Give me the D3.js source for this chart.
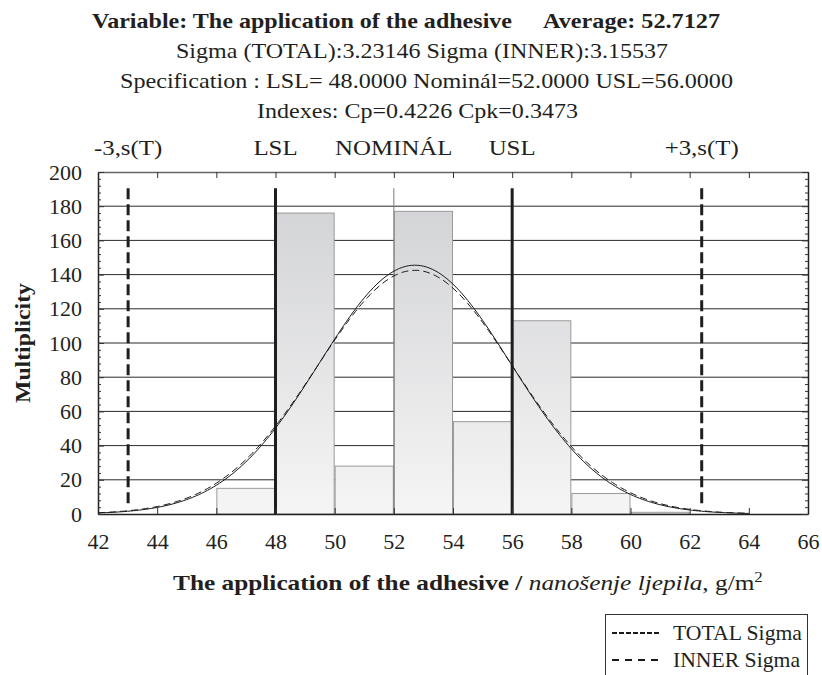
<!DOCTYPE html>
<html>
<head>
<meta charset="utf-8">
<script src="https://cdn.jsdelivr.net/npm/d3@7"></script>
<style>
  body { margin: 0; background: #fff; }
  svg, text { font-family: "Liberation Serif", "Times New Roman", Times, serif; }
  text { fill: #231f20; }
</style>
</head>
<body>
<svg id="chart" width="822" height="675"></svg>
<script>
// Histogram of adhesive application (g/m²) with fitted normal curves and spec limits
const binStarts = [46, 48, 50, 52, 54, 56, 58, 60];
const binCounts = [15, 176, 28, 177, 54, 113, 12, 1];
const binWidth = 2;

const average = 52.7127;
const sigmaTotal = 3.23146;
const sigmaInner = 3.15537;
const lsl = 48, nominal = 52, usl = 56;

// fitted curves: name, sigma and peak height of each drawn curve
const curveNames = ["TOTAL Sigma", "INNER Sigma"];
const curveSigmas = [3.23146, 3.30];
const curvePeaks = [145.5, 142.5];

const xTicks = [42, 44, 46, 48, 50, 52, 54, 56, 58, 60, 62, 64, 66];
const yTicks = [0, 20, 40, 60, 80, 100, 120, 140, 160, 180, 200];

const titleMain = "Variable: The application of the adhesive";
const titleAvg = "Average: 52.7127";
const titleLines = [
  "Sigma (TOTAL):3.23146 Sigma (INNER):3.15537",
  "Specification :  LSL= 48.0000 Nominál=52.0000 USL=56.0000",
  "Indexes: Cp=0.4226 Cpk=0.3473"
];

const specLabels = ["-3,s(T)", "LSL", "NOMINÁL", "USL", "+3,s(T)"];
const specValues = [average - 3 * sigmaTotal, lsl, nominal, usl, average + 3 * sigmaTotal];
const specKinds = ["sigma", "limit", "nominal", "limit", "sigma"];

const svg = d3.select("#chart");
const L = 98, R = 808, T = 172, B = 514;
const x = d3.scaleLinear().domain([42, 66]).range([L, R]);
const y = d3.scaleLinear().domain([0, 200]).range([B, T]);

// the typeset labels run a little wider than the plain font
const WIDEN = 1.13;
function widen(sel, k = WIDEN) {
  sel.each(function () {
    const w = this.getComputedTextLength();
    d3.select(this).attr("textLength", w * k).attr("lengthAdjust", "spacingAndGlyphs");
  });
  return sel;
}

// gradient fill for bars (darker toward top of plot)
const defs = svg.append("defs");
const grad = defs.append("linearGradient").attr("id", "barFill")
  .attr("gradientUnits", "userSpaceOnUse")
  .attr("x1", 0).attr("x2", 0).attr("y1", T).attr("y2", B);
grad.append("stop").attr("offset", "0%").attr("stop-color", "#cfd0d3");
grad.append("stop").attr("offset", "100%").attr("stop-color", "#f5f5f5");

// titles
svg.append("text").attr("x", 92).attr("y", 28)
  .style("font-weight", "bold").style("font-size", "22px")
  .attr("textLength", 420).attr("lengthAdjust", "spacingAndGlyphs")
  .text(titleMain);
svg.append("text").attr("x", 543).attr("y", 28)
  .style("font-weight", "bold").style("font-size", "22px")
  .attr("textLength", 177).attr("lengthAdjust", "spacingAndGlyphs")
  .text(titleAvg);
const subSpans = [[176, 668], [120, 733], [257, 578]];
svg.selectAll("text.sub").data(titleLines).join("text")
  .attr("class", "sub")
  .attr("x", (d, i) => subSpans[i][0]).attr("y", (d, i) => 58 + i * 30)
  .attr("textLength", (d, i) => subSpans[i][1] - subSpans[i][0])
  .attr("lengthAdjust", "spacingAndGlyphs")
  .style("font-size", "22px")
  .text(d => d);

// horizontal grid
svg.append("g").selectAll("line").data(yTicks.filter(v => v > 0 && v < 200)).join("line")
  .attr("x1", L).attr("x2", R).attr("y1", d => y(d)).attr("y2", d => y(d))
  .attr("stroke", "#2a2a2a").attr("stroke-width", 1);

// bars
svg.append("g").selectAll("rect").data(binStarts).join("rect")
  .attr("x", d => x(d) + 0.5)
  .attr("width", d => x(d + binWidth) - x(d) - 1)
  .attr("y", (d, i) => y(binCounts[i]))
  .attr("height", (d, i) => y(0) - y(binCounts[i]))
  .attr("fill", "url(#barFill)")
  .attr("stroke", "#9a9a9a").attr("stroke-width", 1);

// specification / sigma lines
const lineTop = 190.5, sigmaBottom = 5;
const specG = svg.append("g");
specValues.forEach((v, i) => {
  const kind = specKinds[i];
  const ln = specG.append("line")
    .attr("x1", x(v)).attr("x2", x(v))
    .attr("y1", y(lineTop))
    .attr("y2", kind === "sigma" ? y(sigmaBottom) : y(0));
  if (kind === "limit") ln.attr("stroke", "#1e1e1e").attr("stroke-width", 3);
  else if (kind === "nominal") ln.attr("stroke", "#7a7a7a").attr("stroke-width", 1);
  else ln.attr("stroke", "#1e1e1e").attr("stroke-width", 3).attr("stroke-dasharray", "11,5");
});
widen(svg.append("g").selectAll("text").data(specLabels).join("text")
  .attr("x", (d, i) => x(specValues[i]))
  .attr("y", 155).attr("text-anchor", "middle").style("font-size", "22px")
  .text(d => d));

// fitted normal curves
const xs = d3.range(42, 64.01, 0.1);
const line = d3.line().x(d => x(d[0])).y(d => y(d[1]));
curveSigmas.forEach((s, i) => {
  const pts = xs.map(v => [v, curvePeaks[i] * Math.exp(-0.5 * ((v - average) / s) ** 2)]);
  svg.append("path").datum(pts).attr("d", line)
    .attr("fill", "none").attr("stroke", "#1a1a1a").attr("stroke-width", 1)
    .attr("stroke-dasharray", i === 0 ? null : "7,4");
});

// axes
const minorY = d3.range(0, 201, 4).filter(v => v % 20 !== 0);
const axB = svg.append("g").attr("transform", `translate(0,${B})`)
  .call(d3.axisBottom(x).tickValues(xTicks).tickSize(-6).tickSizeOuter(0).tickPadding(19));
const axT = svg.append("g").attr("transform", `translate(0,${T})`)
  .call(d3.axisTop(x).tickValues(xTicks).tickSize(-6).tickSizeOuter(0).tickFormat(""));
const axL = svg.append("g").attr("transform", `translate(${L},0)`)
  .call(d3.axisLeft(y).tickValues(yTicks).tickSize(-6).tickSizeOuter(0).tickPadding(16));
const axR = svg.append("g").attr("transform", `translate(${R},0)`)
  .call(d3.axisRight(y).tickValues(yTicks).tickSize(-6).tickSizeOuter(0).tickFormat(""));
svg.append("g").attr("transform", `translate(${L},0)`)
  .call(d3.axisLeft(y).tickValues(minorY).tickSize(-3).tickSizeOuter(0).tickFormat(""))
  .select(".domain").remove();
svg.append("g").attr("transform", `translate(${R},0)`)
  .call(d3.axisRight(y).tickValues(minorY).tickSize(-3).tickSizeOuter(0).tickFormat(""))
  .select(".domain").remove();
svg.selectAll("g").attr("font-family", null);
[axB, axL].forEach(a => a.selectAll("text")
  .style("font-family", "'Liberation Serif', 'Times New Roman', serif")
  .style("font-size", "22px").attr("fill", "#231f20"));
svg.selectAll(".domain").attr("stroke", "#222").attr("stroke-width", 1.5);
axT.select(".domain").attr("stroke", "#666").attr("stroke-width", 1.5);
svg.selectAll(".tick line").attr("stroke", "#333");

// axis titles
svg.append("text").attr("transform", "translate(30,343) rotate(-90)")
  .attr("text-anchor", "middle").style("font-weight", "bold").style("font-size", "21px")
  .attr("textLength", 120).attr("lengthAdjust", "spacingAndGlyphs")
  .text("Multiplicity");

const xl = svg.append("text").attr("x", 0).attr("y", 0).style("font-size", "21px");
xl.append("tspan").style("font-weight", "bold").text("The application of the adhesive / ");
xl.append("tspan").style("font-style", "italic").text("nanošenje ljepila");
xl.append("tspan").text(", g/m");
xl.append("tspan").attr("dy", -8).style("font-size", "14px").text("2");
{
  const bb = xl.node().getBBox();
  const target = 590, left = 173;
  const k = target / bb.width;
  xl.attr("transform", `translate(${left - bb.x * k},590) scale(${k},1)`);
}

// legend
const lg = svg.append("g");
lg.append("rect").attr("x", 605.5).attr("y", 614.5).attr("width", 202).attr("height", 70)
  .attr("fill", "#fff").attr("stroke", "#333").attr("stroke-width", 1);
const legendDash = ["5,2", "7,6"];
const legendWidths = [129, 127];
curveNames.forEach((n, i) => {
  const yy = 633 + i * 27;
  lg.append("line").attr("x1", 612).attr("x2", 661).attr("y1", yy).attr("y2", yy)
    .attr("stroke", "#1a1a1a").attr("stroke-width", 2).attr("stroke-dasharray", legendDash[i]);
  lg.append("text").attr("x", 673).attr("y", yy + 7).style("font-size", "21px")
    .attr("textLength", legendWidths[i]).attr("lengthAdjust", "spacingAndGlyphs")
    .text(n);
});
</script>
</body>
</html>
